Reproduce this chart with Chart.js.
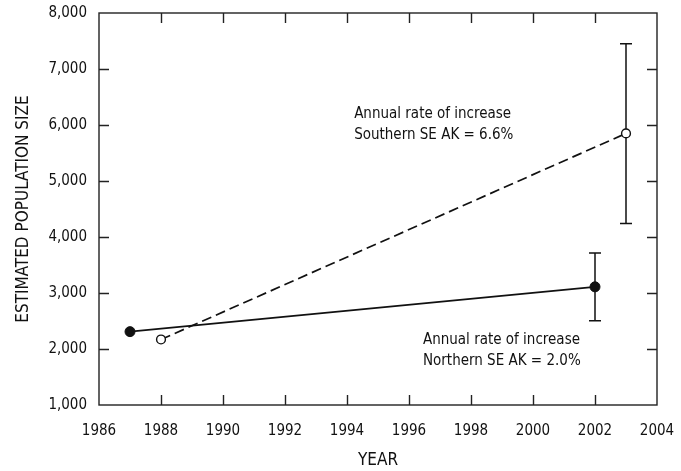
<!DOCTYPE html>
<html>
<head>
<meta charset="utf-8">
<script src="https://cdn.jsdelivr.net/npm/chart.js@4.4.0/dist/chart.umd.min.js"></script>
<style>
  html, body { margin: 0; padding: 0; background: #fff; }
  canvas { display: block; }
</style>
</head>
<body>
<canvas id="c" width="681" height="471"></canvas>
<script>
// Survey estimates for the two regions (year, estimate, confidence bounds)
const northYears  = [1987, 2002];
const northValues = [2310, 3110];
const northLow    = [null, 2505];
const northHigh   = [null, 3715];

const southYears  = [1988, 2003];
const southValues = [2170, 5850];
const southLow    = [null, 4240];
const southHigh   = [null, 7450];

// Axis tick values
const xTickValues = [1986, 1988, 1990, 1992, 1994, 1996, 1998, 2000, 2002, 2004];
const yTickValues = [1000, 2000, 3000, 4000, 5000, 6000, 7000, 8000];

// Annotation text
const southNote = ['Annual rate of increase', 'Southern SE AK = 6.6%'];
const northNote = ['Annual rate of increase', 'Northern SE AK = 2.0%'];

const FONT = "'Liberation Sans Narrow', 'Arial Narrow', 'DejaVu Sans Condensed', sans-serif";
const INK = '#111';

function pairs(xs, ys) { return xs.map((x, i) => ({ x: x, y: ys[i] })); }

// Where each note is anchored, in axis units (left edge, first-line centre)
const notePlacement = {
  south: { x: 1994.23, y: 6195, lineGap: 21 },
  north: { x: 1996.45, y: 2160, lineGap: 21 }
};

const framePlugin = {
  id: 'frameAndMarks',
  beforeDatasetsDraw(chart) {
    const ctx = chart.ctx;
    const xs = chart.scales.x, ys = chart.scales.y;
    // error bars
    const bars = [
      [northYears, northLow, northHigh],
      [southYears, southLow, southHigh]
    ];
    ctx.save();
    ctx.strokeStyle = INK;
    ctx.lineWidth = 1.5;
    bars.forEach(([yrs, lo, hi]) => {
      yrs.forEach((yr, i) => {
        if (lo[i] == null || hi[i] == null) return;
        const px = xs.getPixelForValue(yr);
        const p1 = ys.getPixelForValue(lo[i]);
        const p2 = ys.getPixelForValue(hi[i]);
        ctx.beginPath();
        ctx.moveTo(px, p1); ctx.lineTo(px, p2);
        ctx.moveTo(px - 6, p1); ctx.lineTo(px + 6, p1);
        ctx.moveTo(px - 6, p2); ctx.lineTo(px + 6, p2);
        ctx.stroke();
      });
    });
    ctx.restore();
  },
  afterDraw(chart) {
    const ctx = chart.ctx;
    const a = chart.chartArea;
    const xs = chart.scales.x, ys = chart.scales.y;
    const T = 10;
    ctx.save();
    ctx.strokeStyle = '#222';
    ctx.lineWidth = 1.4;
    ctx.strokeRect(a.left, a.top, a.right - a.left, a.bottom - a.top);
    ctx.beginPath();
    xTickValues.forEach(v => {
      const px = Math.round(xs.getPixelForValue(v)) + 0.5;
      if (v === xTickValues[0] || v === xTickValues[xTickValues.length - 1]) return;
      ctx.moveTo(px, a.bottom); ctx.lineTo(px, a.bottom - T);
      ctx.moveTo(px, a.top); ctx.lineTo(px, a.top + T);
    });
    yTickValues.forEach(v => {
      const py = Math.round(ys.getPixelForValue(v)) + 0.5;
      if (v === yTickValues[0] || v === yTickValues[yTickValues.length - 1]) return;
      ctx.moveTo(a.left, py); ctx.lineTo(a.left + T, py);
      ctx.moveTo(a.right, py); ctx.lineTo(a.right - T, py);
    });
    ctx.stroke();

    // notes
    ctx.fillStyle = INK;
    ctx.font = '15px ' + FONT;
    ctx.textAlign = 'left';
    ctx.textBaseline = 'middle';
    [[southNote, notePlacement.south], [northNote, notePlacement.north]].forEach(([lines, p]) => {
      const px = xs.getPixelForValue(p.x);
      const py = ys.getPixelForValue(p.y);
      lines.forEach((t, i) => ctx.fillText(t, px, py + i * p.lineGap));
    });
    ctx.restore();
  }
};

new Chart(document.getElementById('c'), {
  type: 'line',
  data: {
    datasets: [
      {
        label: 'Northern SE AK',
        data: pairs(northYears, northValues),
        borderColor: INK,
        borderWidth: 1.7,
        backgroundColor: INK,
        pointBackgroundColor: INK,
        pointBorderColor: INK,
        pointRadius: 5,
        pointBorderWidth: 1,
        tension: 0
      },
      {
        label: 'Southern SE AK',
        data: pairs(southYears, southValues),
        borderColor: INK,
        borderWidth: 1.7,
        borderDash: [10, 5],
        pointBackgroundColor: '#fff',
        pointBorderColor: INK,
        pointRadius: 4.4,
        pointBorderWidth: 1.4,
        tension: 0
      }
    ]
  },
  options: {
    responsive: false,
    animation: false,
    devicePixelRatio: 1,
    layout: { padding: { top: 13, right: 24, left: 0, bottom: 0 } },
    plugins: { legend: { display: false }, tooltip: { enabled: false } },
    scales: {
      x: {
        type: 'linear',
        min: 1986, max: 2004,
        afterFit(s) { s.height = 66; s.paddingLeft = 0; s.paddingRight = 0; },
        afterBuildTicks(s) { s.ticks = xTickValues.map(v => ({ value: v })); },
        grid: { display: false, drawTicks: false },
        border: { display: false },
        ticks: { color: INK, padding: 17, maxRotation: 0, autoSkip: false,
                 font: { family: FONT, size: 15 }, callback: v => String(v) },
        title: { display: true, text: 'YEAR', color: INK,
                 font: { family: FONT, size: 17 }, padding: { top: 0, bottom: 0 } }
      },
      y: {
        type: 'linear',
        min: 1000, max: 8000,
        afterFit(s) { s.width = 99; s.paddingTop = 0; s.paddingBottom = 0; },
        afterBuildTicks(s) { s.ticks = yTickValues.map(v => ({ value: v })); },
        grid: { display: false, drawTicks: false },
        border: { display: false },
        ticks: { color: INK, padding: 12, autoSkip: false,
                 font: { family: FONT, size: 15 },
                 callback: v => Number(v).toLocaleString('en-US') },
        title: { display: true, text: 'ESTIMATED POPULATION SIZE', color: INK,
                 font: { family: FONT, size: 17 }, padding: { top: 13, bottom: 0 } }
      }
    }
  },
  plugins: [framePlugin]
});
</script>
</body>
</html>
